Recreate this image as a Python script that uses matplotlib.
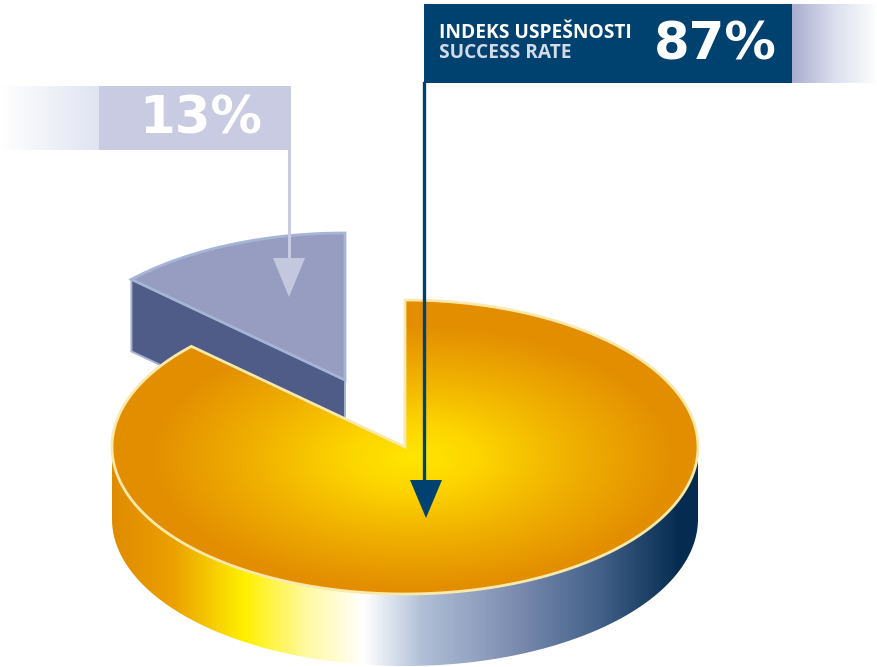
import numpy as np
import matplotlib
matplotlib.use("Agg")
import matplotlib.pyplot as plt
from matplotlib.colors import LinearSegmentedColormap
from matplotlib.patches import Polygon

shares = [87, 13]
label_lines = ["INDEKS USPEŠNOSTI", "SUCCESS RATE"]

W, H = 878, 667
rx, ry, depth = 293, 147, 72
big_c = (405, 447)
small_c = (345, 380)

fig = plt.figure(figsize=(W / 100, H / 100), dpi=100)
ax = fig.add_axes([0, 0, 1, 1])
ax.set_xlim(0, W)
ax.set_ylim(H, 0)
ax.axis("off")


def rim(c, a0, a1, n=200):
    # angles in degrees, clockwise from the top of the ellipse
    t = np.deg2rad(np.linspace(a0, a1, n))
    return np.column_stack([c[0] + rx * np.sin(t), c[1] - ry * np.cos(t)])


def gradient(box, stops, clip=None, zorder=1):
    # horizontal colour ramp inside box = (x0, x1, y0, y1)
    cmap = LinearSegmentedColormap.from_list("g", stops)
    ramp = np.linspace(0, 1, 600).reshape(1, -1)
    im = ax.imshow(ramp, cmap=cmap, extent=(box[0], box[1], box[3], box[2]),
                   aspect="auto", zorder=zorder, interpolation="bilinear")
    if clip is not None:
        clip.set_transform(ax.transData)
        im.set_clip_path(clip)
    return im


big_deg = shares[0] / sum(shares) * 360
small_deg = shares[1] / sum(shares) * 360

# 13% slice, lifted out of the pie
small_rim = rim(small_c, -small_deg, 0)
wall = np.vstack([small_rim[0], small_c, np.array(small_c) + [0, depth], small_rim[0] + [0, depth]])
ax.add_patch(Polygon(wall, closed=True, fc="#505c88", ec="#a6b2d0", lw=1.4, zorder=2))
ax.add_patch(Polygon(np.vstack([small_rim, small_c]), closed=True, fc="#979dc0",
                     ec="#a6b4d6", lw=2.0, joinstyle="miter", zorder=3))

# side of the large slice
front = rim(big_c, 90, 270)
side = np.vstack([front, front[::-1] + [0, depth]])
side_stops = [(0.0, "#e08c00"), (0.10, "#eb9f00"), (0.225, "#fff000"), (0.33, "#fff9a0"),
              (0.43, "#ffffff"), (0.53, "#b0bfd6"), (0.68, "#7f8fb2"), (0.83, "#45628a"),
              (0.97, "#052c50"), (1.0, "#052c50")]
gradient((big_c[0] - rx, big_c[0] + rx, big_c[1], big_c[1] + ry + depth), side_stops,
         Polygon(side, closed=True), zorder=4)

# top of the large slice with a radial glow from just below the centre
top = np.vstack([rim(big_c, 0, big_deg, 400), big_c])
xx, yy = np.meshgrid(np.linspace(big_c[0] - rx, big_c[0] + rx, 500),
                     np.linspace(big_c[1] - ry, big_c[1] + ry, 300))
dist = np.hypot((xx - big_c[0] - 8) / rx, (yy - big_c[1] - 10) / ry)
glow = LinearSegmentedColormap.from_list(
    "glow", [(0.0, "#ffe600"), (0.22, "#fdd500"), (0.55, "#f0b000"), (0.9, "#e38e00"), (1.0, "#e38e00")])
im = ax.imshow(np.clip(dist, 0, 1), cmap=glow, vmin=0, vmax=1, aspect="auto", zorder=5,
               extent=(big_c[0] - rx, big_c[0] + rx, big_c[1] + ry, big_c[1] - ry))
clip = Polygon(top, closed=True, transform=ax.transData)
im.set_clip_path(clip)
ax.add_patch(Polygon(top, closed=True, fc="none", ec="#fbe9ac", lw=2.0, joinstyle="miter", zorder=6))

# banners
gradient((792, W, 4, 83), ["#a9adce", "#dcdfee", "#ffffff"], zorder=7)
ax.fill_between([424, 792], 4, 83, color="#00426f", lw=0, zorder=8)
ax.plot([424, 792], [3.5, 3.5], color="#b9c6d2", lw=1, zorder=7)
gradient((0, 99, 86, 150), ["#ffffff", "#e0e4f2"], zorder=7)
ax.fill_between([99, 291], 86, 150, color="#c8cbe1", lw=0, zorder=8)

# leader arrows
ax.plot([289, 289], [150, 262], color="#c8cbe1", lw=2.2, zorder=9)
ax.add_patch(Polygon([(273, 258), (305, 258), (289, 297)], closed=True, fc="#c4c8de", lw=0, zorder=9))
ax.plot([424.5, 424.5], [83, 484], color="#00426f", lw=2.4, zorder=9)
ax.add_patch(Polygon([(410, 480), (442, 480), (426, 518)], closed=True, fc="#00426f", lw=0, zorder=9))

# text
ax.text(439, 33.5, label_lines[0], color="#ffffff", fontsize=13.8, family="Open Sans", weight="bold",
        ha="left", va="center", zorder=10)
ax.text(439, 53, label_lines[1], color="#d3dae8", fontsize=13.8, family="Open Sans", weight="bold",
        ha="left", va="center", zorder=10)
ax.text(715, 45, f"{shares[0]}%", color="#ffffff", fontsize=37, family="DejaVu Sans", weight="bold",
        ha="center", va="center", zorder=10)
ax.text(201, 120, f"{shares[1]}%", color="#ffffff", fontsize=37, family="DejaVu Sans", weight="bold",
        ha="center", va="center", zorder=10)

fig.savefig("out.png", dpi=100, facecolor="white")
